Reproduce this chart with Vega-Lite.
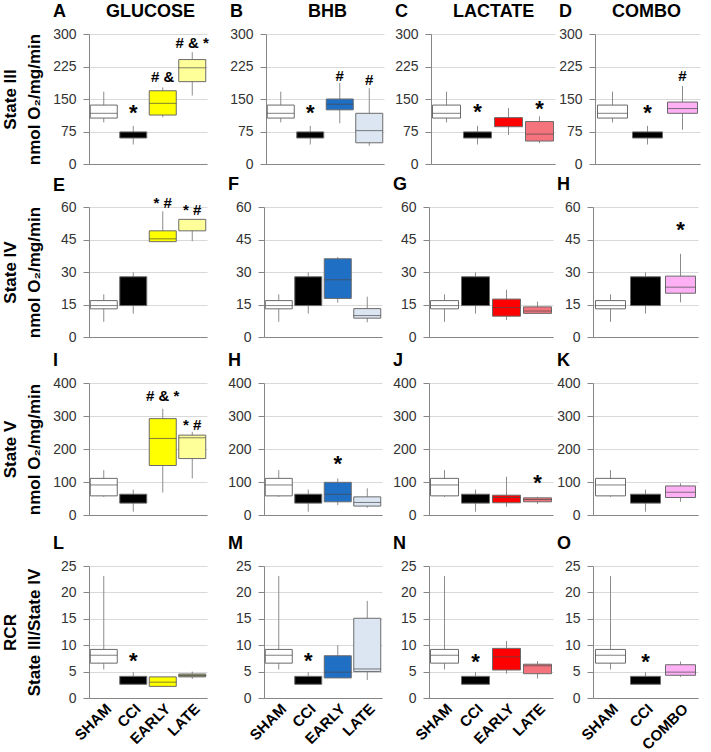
{
"$schema": "https://vega.github.io/schema/vega-lite/v6.json",
"padding": {"left": 1, "top": 3, "right": 5, "bottom": 0},
"background": "white",
"spacing": 5,
"datasets": {"b": [
{"p":"A","g":"SHAM","s":"SHAM","lo":96,"q1":106,"md":117,"q3":136,"hi":167},
{"p":"A","g":"CCI","s":"CCI","lo":45,"q1":60,"q3":74,"hi":88,"an":"*","ay":129},
{"p":"A","g":"EARLY","s":"GE","lo":108,"q1":113,"md":140,"q3":169,"hi":177,"an":"# &","ay":206},
{"p":"A","g":"LATE","s":"GL","lo":158,"q1":190,"md":222,"q3":241,"hi":258,"an":"# & *","ay":283},
{"p":"B","g":"SHAM","s":"SHAM","lo":96,"q1":106,"md":117,"q3":136,"hi":167},
{"p":"B","g":"CCI","s":"CCI","lo":45,"q1":60,"q3":74,"hi":88,"an":"*","ay":129},
{"p":"B","g":"EARLY","s":"BE","lo":94,"q1":125,"md":138,"q3":150,"hi":187,"an":"#","ay":208},
{"p":"B","g":"LATE","s":"BL","lo":42,"q1":49,"md":77,"q3":117,"hi":175,"an":"#","ay":198},
{"p":"C","g":"SHAM","s":"SHAM","lo":96,"q1":106,"md":117,"q3":136,"hi":167},
{"p":"C","g":"CCI","s":"CCI","lo":45,"q1":60,"q3":74,"hi":88,"an":"*","ay":131},
{"p":"C","g":"EARLY","s":"LE","lo":67,"q1":86,"q3":107,"hi":129},
{"p":"C","g":"LATE","s":"LL","lo":48,"q1":53,"md":69,"q3":98,"hi":110,"an":"*","ay":139},
{"p":"D","g":"SHAM","s":"SHAM","lo":96,"q1":106,"md":117,"q3":136,"hi":167},
{"p":"D","g":"CCI","s":"CCI","lo":45,"q1":60,"q3":74,"hi":88,"an":"*","ay":129},
{"p":"D","g":"COMBO","s":"CO","lo":79,"q1":117,"md":128,"q3":143,"hi":180,"an":"#","ay":208},
{"p":"E","g":"SHAM","s":"SHAM","lo":7,"q1":13,"md":14.5,"q3":16.8,"hi":19.7},
{"p":"E","g":"CCI","s":"CCI","lo":10.8,"q1":14.5,"q3":27.8,"hi":29.8},
{"p":"E","g":"EARLY","s":"GE","lo":44,"q1":44,"md":45.3,"q3":49,"hi":58,"an":"* #","ay":63},
{"p":"E","g":"LATE","s":"GL","lo":44.2,"q1":49,"q3":54.3,"hi":54.3,"an":"* #","ay":59.7},
{"p":"F","g":"SHAM","s":"SHAM","lo":7,"q1":13,"md":14.5,"q3":16.8,"hi":19.7},
{"p":"F","g":"CCI","s":"CCI","lo":10.8,"q1":14.5,"q3":27.8,"hi":29.8},
{"p":"F","g":"EARLY","s":"BE","lo":15.8,"q1":17.8,"md":26.4,"q3":36.1,"hi":36.9},
{"p":"F","g":"LATE","s":"BL","lo":6.8,"q1":8.7,"md":9.9,"q3":13.1,"hi":18.6},
{"p":"G","g":"SHAM","s":"SHAM","lo":7,"q1":13,"md":14.5,"q3":16.8,"hi":19.7},
{"p":"G","g":"CCI","s":"CCI","lo":10.8,"q1":14.5,"q3":27.8,"hi":29.8},
{"p":"G","g":"EARLY","s":"LE","lo":7.9,"q1":9.6,"md":13.6,"q3":17.5,"hi":21.8},
{"p":"G","g":"LATE","s":"LL","lo":10.7,"q1":10.9,"md":12,"q3":13.9,"hi":16.3},
{"p":"H","g":"SHAM","s":"SHAM","lo":7,"q1":13,"md":14.5,"q3":16.8,"hi":19.7},
{"p":"H","g":"CCI","s":"CCI","lo":10.8,"q1":14.5,"q3":27.8,"hi":29.8},
{"p":"H","g":"COMBO","s":"CO","lo":16,"q1":20.2,"md":23,"q3":28.1,"hi":38.4,"an":"*","ay":51.8},
{"p":"I","g":"SHAM","s":"SHAM","lo":55,"q1":58,"md":91,"q3":111,"hi":136},
{"p":"I","g":"CCI","s":"CCI","lo":10,"q1":36,"q3":63,"hi":77},
{"p":"I","g":"EARLY","s":"GE","lo":68,"q1":150,"md":232,"q3":292,"hi":322,"an":"# & *","ay":368},
{"p":"I","g":"LATE","s":"GL","lo":111,"q1":171,"md":234,"q3":242,"hi":252,"an":"* #","ay":279},
{"p":"H2","g":"SHAM","s":"SHAM","lo":55,"q1":58,"md":91,"q3":111,"hi":136},
{"p":"H2","g":"CCI","s":"CCI","lo":10,"q1":36,"q3":63,"hi":77},
{"p":"H2","g":"EARLY","s":"BE","lo":30,"q1":40,"md":63,"q3":99,"hi":111,"an":"*","ay":171},
{"p":"H2","g":"LATE","s":"BL","lo":22,"q1":27,"md":38,"q3":55,"hi":81},
{"p":"J","g":"SHAM","s":"SHAM","lo":55,"q1":58,"md":91,"q3":111,"hi":136},
{"p":"J","g":"CCI","s":"CCI","lo":10,"q1":36,"q3":63,"hi":77},
{"p":"J","g":"EARLY","s":"LE","lo":25,"q1":37,"md":53,"q3":60,"hi":116},
{"p":"J","g":"LATE","s":"LL","lo":33,"q1":40,"md":47,"q3":52,"hi":55,"an":"*","ay":113},
{"p":"K","g":"SHAM","s":"SHAM","lo":55,"q1":58,"md":91,"q3":111,"hi":136},
{"p":"K","g":"CCI","s":"CCI","lo":10,"q1":36,"q3":63,"hi":77},
{"p":"K","g":"COMBO","s":"CO","lo":40,"q1":53,"md":69,"q3":88,"hi":96},
{"p":"L","g":"SHAM","s":"SHAM","lo":5.4,"q1":6.6,"md":8.1,"q3":9.2,"hi":23.1},
{"p":"L","g":"CCI","s":"CCI","lo":2.6,"q1":2.6,"q3":4.1,"hi":4.9,"an":"*","ay":7.9},
{"p":"L","g":"EARLY","s":"GE","lo":2.1,"q1":2.2,"md":3.0,"q3":4.0,"hi":4.0},
{"p":"L","g":"LATE","s":"GL4","lo":3.6,"q1":4.0,"md":4.25,"q3":4.55,"hi":5.0},
{"p":"M","g":"SHAM","s":"SHAM","lo":5.4,"q1":6.6,"md":8.1,"q3":9.2,"hi":23.1},
{"p":"M","g":"CCI","s":"CCI","lo":2.6,"q1":2.6,"q3":4.1,"hi":4.9,"an":"*","ay":7.9},
{"p":"M","g":"EARLY","s":"BE","lo":3.8,"q1":3.8,"md":4.9,"q3":8.0,"hi":10.0},
{"p":"M","g":"LATE","s":"BL","lo":3.4,"q1":5.0,"md":5.5,"q3":15.1,"hi":18.4},
{"p":"N","g":"SHAM","s":"SHAM","lo":5.4,"q1":6.6,"md":8.1,"q3":9.2,"hi":23.1},
{"p":"N","g":"CCI","s":"CCI","lo":2.6,"q1":2.6,"q3":4.1,"hi":4.9,"an":"*","ay":7.8},
{"p":"N","g":"EARLY","s":"LE","lo":4.6,"q1":5.3,"md":7.8,"q3":9.4,"hi":10.8},
{"p":"N","g":"LATE","s":"LL","lo":3.7,"q1":4.6,"md":6.1,"q3":6.4,"hi":7.0},
{"p":"O","g":"SHAM","s":"SHAM","lo":5.4,"q1":6.6,"md":8.1,"q3":9.2,"hi":23.1},
{"p":"O","g":"CCI","s":"CCI","lo":2.6,"q1":2.6,"q3":4.1,"hi":4.9,"an":"*","ay":7.8},
{"p":"O","g":"COMBO","s":"CO","lo":4.0,"q1":4.3,"md":4.9,"q3":6.3,"hi":6.9}
]},
"vconcat": [
{"hconcat": [
{"width":118,"height":130,"title":{"text":"A\u00a0\u00a0\u00a0\u00a0\u00a0\u00a0\u00a0\u00a0GLUCOSE"},"data":{"name":"b"},"transform":[{"filter":"datum.p==='A'"}],
"encoding":{"x":{"field":"g","type":"nominal","sort":["SHAM","CCI","EARLY","LATE"],"title":null,"scale":{"paddingInner":0,"paddingOuter":0},"axis":{"labels":false}}},
"layer":[
{"mark":"rule","encoding":{"y":{"field":"lo","type":"quantitative","scale":{"domain":[0,300],"nice":false},"axis":{"values":[0,75,150,225,300],"tickCount":20,"labelOverlap":false,"title":["State III","nmol O₂/mg/min"],"minExtent":37}},"y2":{"field":"hi"}}},
{"mark":{"type":"bar","size":27},"encoding":{"y":{"field":"q1","type":"quantitative","scale":{"domain":[0,300],"nice":false}},"y2":{"field":"q3"},"color":{"field":"s","type":"nominal","scale":{"domain":["SHAM","CCI","GE","GL","GL4","BE","BL","LE","LL","CO"],"range":["#ffffff","#000000","#ffff00","#ffff99","#9c9c6c","#1f6fc5","#dce6f2","#ff0000","#f5737c","#ffb0f5"]},"legend":null}}},
{"mark":{"type":"tick","size":27},"encoding":{"y":{"field":"md","type":"quantitative","scale":{"domain":[0,300],"nice":false}}}},
{"transform":[{"filter":"datum.an && datum.an !== '*'"}],"mark":{"type":"text"},"encoding":{"y":{"field":"ay","type":"quantitative","scale":{"domain":[0,300],"nice":false}},"text":{"field":"an"}}},
{"transform":[{"filter":"datum.an === '*'"}],"mark":{"type":"text","fontSize":22,"dy":5},"encoding":{"y":{"field":"ay","type":"quantitative","scale":{"domain":[0,300],"nice":false}},"text":{"field":"an"}}}]},
{"width":118,"height":130,"title":{"text":"B\u00a0\u00a0\u00a0\u00a0\u00a0\u00a0\u00a0\u00a0\u00a0\u00a0\u00a0\u00a0\u00a0BHB"},"data":{"name":"b"},"transform":[{"filter":"datum.p==='B'"}],
"encoding":{"x":{"field":"g","type":"nominal","sort":["SHAM","CCI","EARLY","LATE"],"title":null,"scale":{"paddingInner":0,"paddingOuter":0},"axis":{"labels":false}}},
"layer":[
{"mark":"rule","encoding":{"y":{"field":"lo","type":"quantitative","scale":{"domain":[0,300],"nice":false},"axis":{"values":[0,75,150,225,300],"tickCount":20,"labelOverlap":false,"title":null,"minExtent":54}},"y2":{"field":"hi"}}},
{"mark":{"type":"bar","size":27},"encoding":{"y":{"field":"q1","type":"quantitative","scale":{"domain":[0,300],"nice":false}},"y2":{"field":"q3"},"color":{"field":"s","type":"nominal","scale":{"domain":["SHAM","CCI","GE","GL","GL4","BE","BL","LE","LL","CO"],"range":["#ffffff","#000000","#ffff00","#ffff99","#9c9c6c","#1f6fc5","#dce6f2","#ff0000","#f5737c","#ffb0f5"]},"legend":null}}},
{"mark":{"type":"tick","size":27},"encoding":{"y":{"field":"md","type":"quantitative","scale":{"domain":[0,300],"nice":false}}}},
{"transform":[{"filter":"datum.an && datum.an !== '*'"}],"mark":{"type":"text"},"encoding":{"y":{"field":"ay","type":"quantitative","scale":{"domain":[0,300],"nice":false}},"text":{"field":"an"}}},
{"transform":[{"filter":"datum.an === '*'"}],"mark":{"type":"text","fontSize":22,"dy":5},"encoding":{"y":{"field":"ay","type":"quantitative","scale":{"domain":[0,300],"nice":false}},"text":{"field":"an"}}}]},
{"width":124,"height":130,"title":{"text":"C\u00a0\u00a0\u00a0\u00a0\u00a0\u00a0\u00a0\u00a0\u00a0LACTATE"},"data":{"name":"b"},"transform":[{"filter":"datum.p==='C'"}],
"encoding":{"x":{"field":"g","type":"nominal","sort":["SHAM","CCI","EARLY","LATE"],"title":null,"scale":{"paddingInner":0,"paddingOuter":0},"axis":{"labels":false}}},
"layer":[
{"mark":"rule","encoding":{"y":{"field":"lo","type":"quantitative","scale":{"domain":[0,300],"nice":false},"axis":{"values":[0,75,150,225,300],"tickCount":20,"labelOverlap":false,"title":null,"minExtent":44}},"y2":{"field":"hi"}}},
{"mark":{"type":"bar","size":28},"encoding":{"y":{"field":"q1","type":"quantitative","scale":{"domain":[0,300],"nice":false}},"y2":{"field":"q3"},"color":{"field":"s","type":"nominal","scale":{"domain":["SHAM","CCI","GE","GL","GL4","BE","BL","LE","LL","CO"],"range":["#ffffff","#000000","#ffff00","#ffff99","#9c9c6c","#1f6fc5","#dce6f2","#ff0000","#f5737c","#ffb0f5"]},"legend":null}}},
{"mark":{"type":"tick","size":28},"encoding":{"y":{"field":"md","type":"quantitative","scale":{"domain":[0,300],"nice":false}}}},
{"transform":[{"filter":"datum.an && datum.an !== '*'"}],"mark":{"type":"text"},"encoding":{"y":{"field":"ay","type":"quantitative","scale":{"domain":[0,300],"nice":false}},"text":{"field":"an"}}},
{"transform":[{"filter":"datum.an === '*'"}],"mark":{"type":"text","fontSize":22,"dy":5},"encoding":{"y":{"field":"ay","type":"quantitative","scale":{"domain":[0,300],"nice":false}},"text":{"field":"an"}}}]},
{"width":105,"height":130,"title":{"text":"D\u00a0\u00a0\u00a0\u00a0\u00a0\u00a0\u00a0\u00a0COMBO"},"data":{"name":"b"},"transform":[{"filter":"datum.p==='D'"}],
"encoding":{"x":{"field":"g","type":"nominal","sort":["SHAM","CCI","COMBO"],"title":null,"scale":{"paddingInner":0,"paddingOuter":0},"axis":{"labels":false}}},
"layer":[
{"mark":"rule","encoding":{"y":{"field":"lo","type":"quantitative","scale":{"domain":[0,300],"nice":false},"axis":{"values":[0,75,150,225,300],"tickCount":20,"labelOverlap":false,"title":null,"minExtent":37}},"y2":{"field":"hi"}}},
{"mark":{"type":"bar","size":30},"encoding":{"y":{"field":"q1","type":"quantitative","scale":{"domain":[0,300],"nice":false}},"y2":{"field":"q3"},"color":{"field":"s","type":"nominal","scale":{"domain":["SHAM","CCI","GE","GL","GL4","BE","BL","LE","LL","CO"],"range":["#ffffff","#000000","#ffff00","#ffff99","#9c9c6c","#1f6fc5","#dce6f2","#ff0000","#f5737c","#ffb0f5"]},"legend":null}}},
{"mark":{"type":"tick","size":30},"encoding":{"y":{"field":"md","type":"quantitative","scale":{"domain":[0,300],"nice":false}}}},
{"transform":[{"filter":"datum.an && datum.an !== '*'"}],"mark":{"type":"text"},"encoding":{"y":{"field":"ay","type":"quantitative","scale":{"domain":[0,300],"nice":false}},"text":{"field":"an"}}},
{"transform":[{"filter":"datum.an === '*'"}],"mark":{"type":"text","fontSize":22,"dy":5},"encoding":{"y":{"field":"ay","type":"quantitative","scale":{"domain":[0,300],"nice":false}},"text":{"field":"an"}}}]}
], "spacing": 3},
{"vconcat": [
{"hconcat": [
{"width":118,"height":130,"title":{"text":"E","offset":1},"data":{"name":"b"},"transform":[{"filter":"datum.p==='E'"}],
"encoding":{"x":{"field":"g","type":"nominal","sort":["SHAM","CCI","EARLY","LATE"],"title":null,"scale":{"paddingInner":0,"paddingOuter":0},"axis":{"labels":false}}},
"layer":[
{"mark":"rule","encoding":{"y":{"field":"lo","type":"quantitative","scale":{"domain":[0,60],"nice":false},"axis":{"values":[0,15,30,45,60],"tickCount":20,"labelOverlap":false,"title":["State IV","nmol O₂/mg/min"],"minExtent":37}},"y2":{"field":"hi"}}},
{"mark":{"type":"bar","size":27},"encoding":{"y":{"field":"q1","type":"quantitative","scale":{"domain":[0,60],"nice":false}},"y2":{"field":"q3"},"color":{"field":"s","type":"nominal","scale":{"domain":["SHAM","CCI","GE","GL","GL4","BE","BL","LE","LL","CO"],"range":["#ffffff","#000000","#ffff00","#ffff99","#9c9c6c","#1f6fc5","#dce6f2","#ff0000","#f5737c","#ffb0f5"]},"legend":null}}},
{"mark":{"type":"tick","size":27},"encoding":{"y":{"field":"md","type":"quantitative","scale":{"domain":[0,60],"nice":false}}}},
{"transform":[{"filter":"datum.an && datum.an !== '*'"}],"mark":{"type":"text"},"encoding":{"y":{"field":"ay","type":"quantitative","scale":{"domain":[0,60],"nice":false}},"text":{"field":"an"}}}]},
{"width":118,"height":130,"title":{"text":"F"},"data":{"name":"b"},"transform":[{"filter":"datum.p==='F'"}],
"encoding":{"x":{"field":"g","type":"nominal","sort":["SHAM","CCI","EARLY","LATE"],"title":null,"scale":{"paddingInner":0,"paddingOuter":0},"axis":{"labels":false}}},
"layer":[
{"mark":"rule","encoding":{"y":{"field":"lo","type":"quantitative","scale":{"domain":[0,60],"nice":false},"axis":{"values":[0,15,30,45,60],"tickCount":20,"labelOverlap":false,"title":null,"minExtent":54}},"y2":{"field":"hi"}}},
{"mark":{"type":"bar","size":27},"encoding":{"y":{"field":"q1","type":"quantitative","scale":{"domain":[0,60],"nice":false}},"y2":{"field":"q3"},"color":{"field":"s","type":"nominal","scale":{"domain":["SHAM","CCI","GE","GL","GL4","BE","BL","LE","LL","CO"],"range":["#ffffff","#000000","#ffff00","#ffff99","#9c9c6c","#1f6fc5","#dce6f2","#ff0000","#f5737c","#ffb0f5"]},"legend":null}}},
{"mark":{"type":"tick","size":27},"encoding":{"y":{"field":"md","type":"quantitative","scale":{"domain":[0,60],"nice":false}}}}]},
{"width":124,"height":130,"title":{"text":"G"},"data":{"name":"b"},"transform":[{"filter":"datum.p==='G'"}],
"encoding":{"x":{"field":"g","type":"nominal","sort":["SHAM","CCI","EARLY","LATE"],"title":null,"scale":{"paddingInner":0,"paddingOuter":0},"axis":{"labels":false}}},
"layer":[
{"mark":"rule","encoding":{"y":{"field":"lo","type":"quantitative","scale":{"domain":[0,60],"nice":false},"axis":{"values":[0,15,30,45,60],"tickCount":20,"labelOverlap":false,"title":null,"minExtent":44}},"y2":{"field":"hi"}}},
{"mark":{"type":"bar","size":28},"encoding":{"y":{"field":"q1","type":"quantitative","scale":{"domain":[0,60],"nice":false}},"y2":{"field":"q3"},"color":{"field":"s","type":"nominal","scale":{"domain":["SHAM","CCI","GE","GL","GL4","BE","BL","LE","LL","CO"],"range":["#ffffff","#000000","#ffff00","#ffff99","#9c9c6c","#1f6fc5","#dce6f2","#ff0000","#f5737c","#ffb0f5"]},"legend":null}}},
{"mark":{"type":"tick","size":28},"encoding":{"y":{"field":"md","type":"quantitative","scale":{"domain":[0,60],"nice":false}}}}]},
{"width":105,"height":130,"title":{"text":"H"},"data":{"name":"b"},"transform":[{"filter":"datum.p==='H'"}],
"encoding":{"x":{"field":"g","type":"nominal","sort":["SHAM","CCI","COMBO"],"title":null,"scale":{"paddingInner":0,"paddingOuter":0},"axis":{"labels":false}}},
"layer":[
{"mark":"rule","encoding":{"y":{"field":"lo","type":"quantitative","scale":{"domain":[0,60],"nice":false},"axis":{"values":[0,15,30,45,60],"tickCount":20,"labelOverlap":false,"title":null,"minExtent":37}},"y2":{"field":"hi"}}},
{"mark":{"type":"bar","size":30},"encoding":{"y":{"field":"q1","type":"quantitative","scale":{"domain":[0,60],"nice":false}},"y2":{"field":"q3"},"color":{"field":"s","type":"nominal","scale":{"domain":["SHAM","CCI","GE","GL","GL4","BE","BL","LE","LL","CO"],"range":["#ffffff","#000000","#ffff00","#ffff99","#9c9c6c","#1f6fc5","#dce6f2","#ff0000","#f5737c","#ffb0f5"]},"legend":null}}},
{"mark":{"type":"tick","size":30},"encoding":{"y":{"field":"md","type":"quantitative","scale":{"domain":[0,60],"nice":false}}}},
{"transform":[{"filter":"datum.an === '*'"}],"mark":{"type":"text","fontSize":22,"dy":5},"encoding":{"y":{"field":"ay","type":"quantitative","scale":{"domain":[0,60],"nice":false}},"text":{"field":"an"}}}]}
], "spacing": 3},
{"vconcat": [
{"hconcat": [
{"width":118,"height":132,"title":{"text":"I"},"data":{"name":"b"},"transform":[{"filter":"datum.p==='I'"}],
"encoding":{"x":{"field":"g","type":"nominal","sort":["SHAM","CCI","EARLY","LATE"],"title":null,"scale":{"paddingInner":0,"paddingOuter":0},"axis":{"labels":false}}},
"layer":[
{"mark":"rule","encoding":{"y":{"field":"lo","type":"quantitative","scale":{"domain":[0,400],"nice":false},"axis":{"values":[0,100,200,300,400],"tickCount":20,"labelOverlap":false,"title":["State V","nmol O₂/mg/min"],"minExtent":37}},"y2":{"field":"hi"}}},
{"mark":{"type":"bar","size":27},"encoding":{"y":{"field":"q1","type":"quantitative","scale":{"domain":[0,400],"nice":false}},"y2":{"field":"q3"},"color":{"field":"s","type":"nominal","scale":{"domain":["SHAM","CCI","GE","GL","GL4","BE","BL","LE","LL","CO"],"range":["#ffffff","#000000","#ffff00","#ffff99","#9c9c6c","#1f6fc5","#dce6f2","#ff0000","#f5737c","#ffb0f5"]},"legend":null}}},
{"mark":{"type":"tick","size":27},"encoding":{"y":{"field":"md","type":"quantitative","scale":{"domain":[0,400],"nice":false}}}},
{"transform":[{"filter":"datum.an && datum.an !== '*'"}],"mark":{"type":"text"},"encoding":{"y":{"field":"ay","type":"quantitative","scale":{"domain":[0,400],"nice":false}},"text":{"field":"an"}}}]},
{"width":118,"height":132,"title":{"text":"H"},"data":{"name":"b"},"transform":[{"filter":"datum.p==='H2'"}],
"encoding":{"x":{"field":"g","type":"nominal","sort":["SHAM","CCI","EARLY","LATE"],"title":null,"scale":{"paddingInner":0,"paddingOuter":0},"axis":{"labels":false}}},
"layer":[
{"mark":"rule","encoding":{"y":{"field":"lo","type":"quantitative","scale":{"domain":[0,400],"nice":false},"axis":{"values":[0,100,200,300,400],"tickCount":20,"labelOverlap":false,"title":null,"minExtent":54}},"y2":{"field":"hi"}}},
{"mark":{"type":"bar","size":27},"encoding":{"y":{"field":"q1","type":"quantitative","scale":{"domain":[0,400],"nice":false}},"y2":{"field":"q3"},"color":{"field":"s","type":"nominal","scale":{"domain":["SHAM","CCI","GE","GL","GL4","BE","BL","LE","LL","CO"],"range":["#ffffff","#000000","#ffff00","#ffff99","#9c9c6c","#1f6fc5","#dce6f2","#ff0000","#f5737c","#ffb0f5"]},"legend":null}}},
{"mark":{"type":"tick","size":27},"encoding":{"y":{"field":"md","type":"quantitative","scale":{"domain":[0,400],"nice":false}}}},
{"transform":[{"filter":"datum.an === '*'"}],"mark":{"type":"text","fontSize":22,"dy":5},"encoding":{"y":{"field":"ay","type":"quantitative","scale":{"domain":[0,400],"nice":false}},"text":{"field":"an"}}}]},
{"width":124,"height":132,"title":{"text":"J"},"data":{"name":"b"},"transform":[{"filter":"datum.p==='J'"}],
"encoding":{"x":{"field":"g","type":"nominal","sort":["SHAM","CCI","EARLY","LATE"],"title":null,"scale":{"paddingInner":0,"paddingOuter":0},"axis":{"labels":false}}},
"layer":[
{"mark":"rule","encoding":{"y":{"field":"lo","type":"quantitative","scale":{"domain":[0,400],"nice":false},"axis":{"values":[0,100,200,300,400],"tickCount":20,"labelOverlap":false,"title":null,"minExtent":44}},"y2":{"field":"hi"}}},
{"mark":{"type":"bar","size":28},"encoding":{"y":{"field":"q1","type":"quantitative","scale":{"domain":[0,400],"nice":false}},"y2":{"field":"q3"},"color":{"field":"s","type":"nominal","scale":{"domain":["SHAM","CCI","GE","GL","GL4","BE","BL","LE","LL","CO"],"range":["#ffffff","#000000","#ffff00","#ffff99","#9c9c6c","#1f6fc5","#dce6f2","#ff0000","#f5737c","#ffb0f5"]},"legend":null}}},
{"mark":{"type":"tick","size":28},"encoding":{"y":{"field":"md","type":"quantitative","scale":{"domain":[0,400],"nice":false}}}},
{"transform":[{"filter":"datum.an === '*'"}],"mark":{"type":"text","fontSize":22,"dy":5},"encoding":{"y":{"field":"ay","type":"quantitative","scale":{"domain":[0,400],"nice":false}},"text":{"field":"an"}}}]},
{"width":105,"height":132,"title":{"text":"K"},"data":{"name":"b"},"transform":[{"filter":"datum.p==='K'"}],
"encoding":{"x":{"field":"g","type":"nominal","sort":["SHAM","CCI","COMBO"],"title":null,"scale":{"paddingInner":0,"paddingOuter":0},"axis":{"labels":false}}},
"layer":[
{"mark":"rule","encoding":{"y":{"field":"lo","type":"quantitative","scale":{"domain":[0,400],"nice":false},"axis":{"values":[0,100,200,300,400],"tickCount":20,"labelOverlap":false,"title":null,"minExtent":37}},"y2":{"field":"hi"}}},
{"mark":{"type":"bar","size":30},"encoding":{"y":{"field":"q1","type":"quantitative","scale":{"domain":[0,400],"nice":false}},"y2":{"field":"q3"},"color":{"field":"s","type":"nominal","scale":{"domain":["SHAM","CCI","GE","GL","GL4","BE","BL","LE","LL","CO"],"range":["#ffffff","#000000","#ffff00","#ffff99","#9c9c6c","#1f6fc5","#dce6f2","#ff0000","#f5737c","#ffb0f5"]},"legend":null}}},
{"mark":{"type":"tick","size":30},"encoding":{"y":{"field":"md","type":"quantitative","scale":{"domain":[0,400],"nice":false}}}}]}
], "spacing": 3},
{"hconcat": [
{"width":118,"height":132,"title":{"text":"L"},"data":{"name":"b"},"transform":[{"filter":"datum.p==='L'"}],
"encoding":{"x":{"field":"g","type":"nominal","sort":["SHAM","CCI","EARLY","LATE"],"title":null,"scale":{"paddingInner":0,"paddingOuter":0},"axis":{"labels":true,"labelAngle":-45,"labelOverlap":false}}},
"layer":[
{"mark":"rule","encoding":{"y":{"field":"lo","type":"quantitative","scale":{"domain":[0,25],"nice":false},"axis":{"values":[0,5,10,15,20,25],"tickCount":20,"labelOverlap":false,"title":["RCR","State III/State IV"],"minExtent":37}},"y2":{"field":"hi"}}},
{"mark":{"type":"bar","size":27},"encoding":{"y":{"field":"q1","type":"quantitative","scale":{"domain":[0,25],"nice":false}},"y2":{"field":"q3"},"color":{"field":"s","type":"nominal","scale":{"domain":["SHAM","CCI","GE","GL","GL4","BE","BL","LE","LL","CO"],"range":["#ffffff","#000000","#ffff00","#ffff99","#9c9c6c","#1f6fc5","#dce6f2","#ff0000","#f5737c","#ffb0f5"]},"legend":null}}},
{"mark":{"type":"tick","size":27},"encoding":{"y":{"field":"md","type":"quantitative","scale":{"domain":[0,25],"nice":false}}}},
{"transform":[{"filter":"datum.an === '*'"}],"mark":{"type":"text","fontSize":22,"dy":5},"encoding":{"y":{"field":"ay","type":"quantitative","scale":{"domain":[0,25],"nice":false}},"text":{"field":"an"}}}]},
{"width":118,"height":132,"title":{"text":"M"},"data":{"name":"b"},"transform":[{"filter":"datum.p==='M'"}],
"encoding":{"x":{"field":"g","type":"nominal","sort":["SHAM","CCI","EARLY","LATE"],"title":null,"scale":{"paddingInner":0,"paddingOuter":0},"axis":{"labels":true,"labelAngle":-45,"labelOverlap":false}}},
"layer":[
{"mark":"rule","encoding":{"y":{"field":"lo","type":"quantitative","scale":{"domain":[0,25],"nice":false},"axis":{"values":[0,5,10,15,20,25],"tickCount":20,"labelOverlap":false,"title":null,"minExtent":54}},"y2":{"field":"hi"}}},
{"mark":{"type":"bar","size":27},"encoding":{"y":{"field":"q1","type":"quantitative","scale":{"domain":[0,25],"nice":false}},"y2":{"field":"q3"},"color":{"field":"s","type":"nominal","scale":{"domain":["SHAM","CCI","GE","GL","GL4","BE","BL","LE","LL","CO"],"range":["#ffffff","#000000","#ffff00","#ffff99","#9c9c6c","#1f6fc5","#dce6f2","#ff0000","#f5737c","#ffb0f5"]},"legend":null}}},
{"mark":{"type":"tick","size":27},"encoding":{"y":{"field":"md","type":"quantitative","scale":{"domain":[0,25],"nice":false}}}},
{"transform":[{"filter":"datum.an === '*'"}],"mark":{"type":"text","fontSize":22,"dy":5},"encoding":{"y":{"field":"ay","type":"quantitative","scale":{"domain":[0,25],"nice":false}},"text":{"field":"an"}}}]},
{"width":124,"height":132,"title":{"text":"N"},"data":{"name":"b"},"transform":[{"filter":"datum.p==='N'"}],
"encoding":{"x":{"field":"g","type":"nominal","sort":["SHAM","CCI","EARLY","LATE"],"title":null,"scale":{"paddingInner":0,"paddingOuter":0},"axis":{"labels":true,"labelAngle":-45,"labelOverlap":false}}},
"layer":[
{"mark":"rule","encoding":{"y":{"field":"lo","type":"quantitative","scale":{"domain":[0,25],"nice":false},"axis":{"values":[0,5,10,15,20,25],"tickCount":20,"labelOverlap":false,"title":null,"minExtent":44}},"y2":{"field":"hi"}}},
{"mark":{"type":"bar","size":28},"encoding":{"y":{"field":"q1","type":"quantitative","scale":{"domain":[0,25],"nice":false}},"y2":{"field":"q3"},"color":{"field":"s","type":"nominal","scale":{"domain":["SHAM","CCI","GE","GL","GL4","BE","BL","LE","LL","CO"],"range":["#ffffff","#000000","#ffff00","#ffff99","#9c9c6c","#1f6fc5","#dce6f2","#ff0000","#f5737c","#ffb0f5"]},"legend":null}}},
{"mark":{"type":"tick","size":28},"encoding":{"y":{"field":"md","type":"quantitative","scale":{"domain":[0,25],"nice":false}}}},
{"transform":[{"filter":"datum.an === '*'"}],"mark":{"type":"text","fontSize":22,"dy":5},"encoding":{"y":{"field":"ay","type":"quantitative","scale":{"domain":[0,25],"nice":false}},"text":{"field":"an"}}}]},
{"width":105,"height":132,"title":{"text":"O"},"data":{"name":"b"},"transform":[{"filter":"datum.p==='O'"}],
"encoding":{"x":{"field":"g","type":"nominal","sort":["SHAM","CCI","COMBO"],"title":null,"scale":{"paddingInner":0,"paddingOuter":0},"axis":{"labels":true,"labelAngle":-45,"labelOverlap":false}}},
"layer":[
{"mark":"rule","encoding":{"y":{"field":"lo","type":"quantitative","scale":{"domain":[0,25],"nice":false},"axis":{"values":[0,5,10,15,20,25],"tickCount":20,"labelOverlap":false,"title":null,"minExtent":37}},"y2":{"field":"hi"}}},
{"mark":{"type":"bar","size":30},"encoding":{"y":{"field":"q1","type":"quantitative","scale":{"domain":[0,25],"nice":false}},"y2":{"field":"q3"},"color":{"field":"s","type":"nominal","scale":{"domain":["SHAM","CCI","GE","GL","GL4","BE","BL","LE","LL","CO"],"range":["#ffffff","#000000","#ffff00","#ffff99","#9c9c6c","#1f6fc5","#dce6f2","#ff0000","#f5737c","#ffb0f5"]},"legend":null}}},
{"mark":{"type":"tick","size":30},"encoding":{"y":{"field":"md","type":"quantitative","scale":{"domain":[0,25],"nice":false}}}},
{"transform":[{"filter":"datum.an === '*'"}],"mark":{"type":"text","fontSize":22,"dy":5},"encoding":{"y":{"field":"ay","type":"quantitative","scale":{"domain":[0,25],"nice":false}},"text":{"field":"an"}}}]}
], "spacing": 3}
], "spacing": 13}
], "spacing": 8}
],
"config": {
"font": "Liberation Sans",
"view": {"stroke": null},
"title": {"fontSize": 18, "fontWeight": "bold", "anchor": "start", "frame": "group", "color": "#000000", "offset": 6, "dx": -36},
"axisY": {"domainColor": "#868686", "tickColor": "#868686", "tickSize": 6, "gridColor": "#d9d9d9", "grid": true, "labelFontSize": 14, "labelColor": "#333333", "labelPadding": 7, "labelOverlap": false, "titleFontSize": 17, "titleFontWeight": "bold", "titleColor": "#000000", "titleLineHeight": 24, "titlePadding": 9},
"axisX": {"domainColor": "#868686", "ticks": false, "grid": false, "labelFontSize": 15, "labelFontWeight": "bold", "labelColor": "#000000", "labelPadding": 3},
"rule": {"color": "#8c8c8c"},
"bar": {"stroke": "#6b6b6b", "strokeWidth": 1},
"tick": {"color": "#4a4a4a", "thickness": 1},
"text": {"fontSize": 15, "fontWeight": "bold", "color": "#000000", "baseline": "middle", "dy": 2}
}
}
